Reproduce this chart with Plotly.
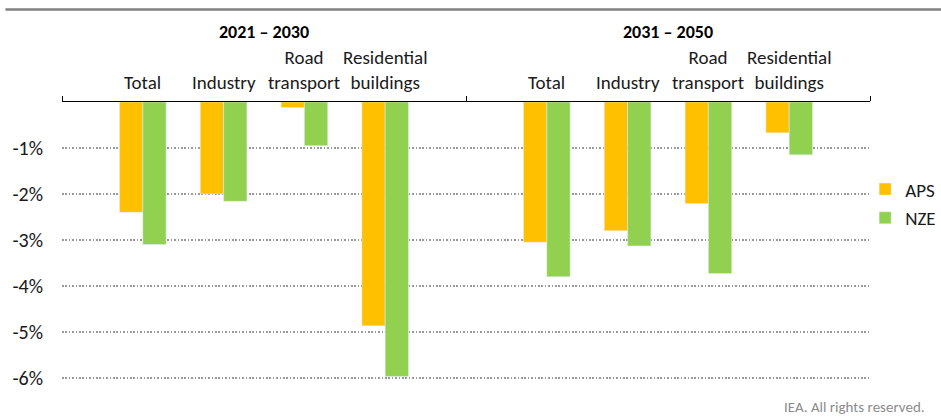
import plotly.graph_objects as go

# Average annual change in energy intensity by sector and period
periods = ["2021 – 2030", "2031 – 2050"]
sectors = ["Total", "Industry", "Road<br>transport", "Residential<br>buildings"]
x_pos = [1, 2, 3, 4, 6, 7, 8, 9]
period_centers = [2.5, 7.5]
period_bounds = [0, 5, 10]

aps = [-2.40, -2.00, -0.12, -4.87, -3.05, -2.80, -2.21, -0.67]
nze = [-3.10, -2.16, -0.95, -5.97, -3.80, -3.13, -3.73, -1.15]

y_ticks = [-6, -5, -4, -3, -2, -1]
y_tick_text = ["-6%", "-5%", "-4%", "-3%", "-2%", "-1%"]

FONT = "Carlito, Lato, 'Open Sans', sans-serif"
TXT = "#1a1a1a"

fig = go.Figure()
fig.add_trace(go.Bar(x=x_pos, y=aps, name="APS", marker_color="#FFC000",
                     legendgroup="aps"))
fig.add_trace(go.Bar(x=x_pos, y=nze, name="NZE", marker_color="#92D050",
                     legendgroup="nze"))

# Sector labels above the zero line
for i, xp in enumerate(x_pos):
    fig.add_annotation(x=xp, y=0, xref="x", yref="y", text=sectors[i % 4],
                       showarrow=False, yanchor="bottom", yshift=6,
                       font=dict(family=FONT, size=19, color=TXT))
# Period headers
for xc, label in zip(period_centers, periods):
    fig.add_annotation(x=xc, y=0, xref="x", yref="y", text="<b>" + label + "</b>",
                       showarrow=False, yanchor="middle", yshift=70,
                       font=dict(family=FONT, size=18, color="#000000"))

fig.add_annotation(x=1.0, y=0.0, xref="paper", yref="paper",
                   text="IEA. All rights reserved.", showarrow=False,
                   xanchor="left", yanchor="middle", xshift=-88, yshift=-20,
                   font=dict(family=FONT, size=15, color="#8c8c8c"))

# Top rule
fig.add_shape(type="line", xref="paper", yref="paper", x0=-0.07, x1=1.1,
              y0=1.325, y1=1.325, line=dict(color="#808080", width=2.5))

fig.update_layout(
    width=941, height=417,
    margin=dict(l=62, r=71, t=102, b=30, autoexpand=False),
    paper_bgcolor="white", plot_bgcolor="white",
    barmode="group", bargap=0.423, bargroupgap=0,
    font=dict(family=FONT, size=18, color=TXT),
    showlegend=True,
    legend=dict(x=0.994, y=0.643, xanchor="left", yanchor="middle",
                font=dict(family=FONT, size=19, color=TXT),
                tracegroupgap=1, bgcolor="rgba(0,0,0,0)"),
    xaxis=dict(range=[0, 10], side="top", tickvals=period_bounds,
               ticktext=["", "", ""], ticks="outside", ticklen=5,
               tickcolor="#000000", showline=True, linecolor="#000000",
               linewidth=1, showgrid=False, zeroline=False, fixedrange=True),
    yaxis=dict(range=[-6.2, 0], tickvals=y_ticks, ticktext=y_tick_text,
               showgrid=True, gridcolor="#999999", gridwidth=1.5,
               griddash="1.5px,1.9px", zeroline=False, showline=False,
               ticks="", ticklabelstandoff=18,
               tickfont=dict(family=FONT, size=20, color=TXT)),
)

fig.write_html("out.html")
